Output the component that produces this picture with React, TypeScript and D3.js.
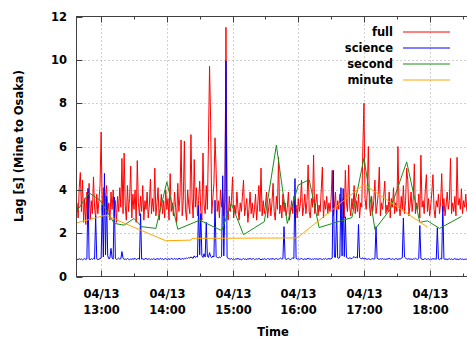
import React from 'react';
import * as d3 from 'd3';

// lag samples, one per minute starting at FULL_START
const FULL_START = "12:38";
const FULL = [
  3.4, 2.7, 4.1, 4.8, 3.0, 4.45, 2.5, 3.6, 2.4, 3.9,
  3.1, 4.3, 2.6, 3.5, 2.9, 4.6, 3.2, 2.7, 3.8, 2.9,
  3.5, 4.2, 6.67, 3.0, 4.1, 2.8, 3.6, 4.2, 2.9, 3.4,
  2.6, 3.9, 3.1, 4.0, 2.8, 3.5, 2.5, 3.7, 3.0, 4.1,
  3.2, 5.45, 2.9, 5.7, 3.3, 2.6, 4.2, 3.0, 3.6, 5.1,
  2.7, 3.8, 3.1, 4.0, 2.5, 5.35, 3.4, 2.8, 3.7, 3.0,
  4.2, 2.6, 3.5, 3.1, 3.9, 2.7, 3.3, 4.5, 2.9, 3.6,
  3.0, 5.0, 2.8, 3.4, 4.1, 2.6, 3.2, 3.8, 2.9, 3.5,
  2.7, 4.0, 3.1, 3.6, 2.6, 4.75, 3.0, 3.4, 2.8, 3.9,
  3.2, 2.5, 4.3, 3.0, 3.7, 6.3, 2.8, 3.5, 6.25, 3.1,
  2.6, 4.0, 3.3, 2.9, 6.55, 3.6, 2.7, 5.4, 3.2, 4.1,
  2.8, 3.5, 4.4, 3.0, 2.6, 5.7, 3.3, 2.9, 4.2, 3.1,
  6.2, 9.7, 7.15, 2.9, 3.6, 4.3, 6.4, 4.9, 3.0, 3.5,
  2.7, 4.0, 3.2, 3.8, 2.8, 3.4, 11.5, 3.1, 2.6, 3.7,
  3.0, 3.5, 4.6, 2.7, 3.3, 2.9, 3.9, 3.1, 2.6, 3.4,
  3.0, 3.7, 4.45, 2.8, 3.2, 3.6, 2.5, 3.1, 3.9, 2.9,
  3.4, 2.7, 3.1, 3.8, 2.6, 3.3, 4.2, 3.0, 5.0, 2.8,
  3.5, 2.9, 3.3, 3.9, 2.7, 3.2, 3.6, 2.8, 3.4, 4.3,
  3.0, 2.6, 3.7, 3.1, 5.5, 2.9, 3.3, 2.7, 3.8, 3.0,
  3.4, 2.8, 3.2, 3.9, 2.6, 3.1, 3.5, 2.9, 3.7, 3.0,
  3.3, 2.7, 3.6, 3.0, 3.4, 4.45, 2.8, 3.2, 3.8, 2.9,
  3.5, 5.15, 3.0, 2.7, 3.6, 3.2, 5.6, 2.9, 3.4, 3.8,
  2.8, 3.3, 3.0, 4.0, 5.05, 2.7, 3.5, 3.1, 3.7, 2.9,
  3.4, 3.0, 3.6, 4.9, 2.8, 3.2, 3.9, 2.7, 3.5, 3.1,
  3.8, 2.9, 3.3, 3.6, 2.7, 4.9, 3.4, 3.0, 5.15, 3.2,
  2.8, 3.6, 3.1, 4.2, 2.9, 3.5, 3.0, 3.8, 2.7, 3.4,
  3.2, 5.98, 8.0, 3.6, 3.1, 3.9, 6.0, 3.3, 2.8, 3.7,
  3.0, 3.5, 4.45, 2.9, 3.3, 3.8, 5.05, 2.8, 3.4, 3.1,
  3.7, 4.4, 2.9, 3.3, 3.0, 3.9, 2.7, 3.6, 3.2, 4.1,
  2.9, 3.4, 3.0, 6.0, 3.3, 2.8, 3.7, 3.1, 4.2, 2.9,
  3.5, 5.0, 4.45, 2.8, 3.3, 3.9, 3.0, 3.6, 5.2, 2.9,
  3.4, 3.1, 3.8, 2.7, 5.6, 3.2, 3.5, 2.9, 4.0, 4.7,
  3.0, 3.6, 2.8, 3.3, 3.9, 4.7, 3.1, 2.7, 3.5, 3.2,
  3.8, 2.9, 3.4, 4.75, 3.0, 3.6, 2.8, 3.3, 3.9, 3.1,
  3.5, 5.45, 2.9, 3.4, 3.0, 3.7, 2.8, 5.5, 3.3, 3.6,
  3.1, 4.05, 2.9, 3.5, 3.2, 3.8, 3.0,
];

const SCIENCE = [
  0.80, 0.78, 0.82, 0.79, 0.81, 0.77, 0.80, 0.83, 0.79, 0.81,
  4.07, 0.80, 0.78, 0.82, 0.79, 0.84, 0.80, 2.8, 0.81, 0.78,
  0.80, 0.83, 0.85, 3.3, 0.9, 4.76, 1.0, 3.7, 0.95, 0.82,
  0.84, 1.3, 0.86, 0.80, 3.67, 0.83, 0.79, 0.81, 0.85, 0.80,
  0.82, 1.15, 0.84, 0.79, 0.81, 0.78, 0.83, 0.80, 0.77, 0.81,
  0.79, 0.82, 0.80, 0.84, 0.78, 0.81, 0.83, 0.79, 2.9, 0.80,
  0.82, 0.78, 0.81, 0.84, 0.79, 0.80, 0.83, 0.77, 0.81, 0.79,
  0.82, 0.80, 0.78, 0.83, 0.81, 0.79, 0.84, 0.80, 0.82, 0.78,
  0.81, 0.83, 0.79, 0.80, 0.82, 0.78, 0.84, 0.81, 0.79, 0.83,
  0.80, 0.82, 0.78, 0.85, 0.81, 0.79, 0.83, 0.80, 0.84, 0.82,
  0.86, 0.83, 0.88, 0.85, 0.90, 0.87, 0.84, 0.95, 0.88, 0.92,
  0.90, 3.3, 1.0, 2.9, 0.95, 0.88, 1.05, 0.90, 2.5, 0.93,
  0.88, 1.1, 0.92, 0.87, 0.95, 0.90, 3.52, 0.92, 0.88, 0.86,
  0.90, 0.87, 0.93, 4.65, 0.95, 3.06, 9.95, 0.88, 0.84, 0.82,
  0.80, 0.83, 0.79, 0.81, 0.78, 0.82, 0.80, 0.84, 0.79, 0.81,
  0.77, 0.80, 0.83, 0.79, 0.81, 0.78, 0.82, 0.80, 0.84, 0.79,
  0.81, 0.83, 0.78, 0.80, 0.82, 0.79, 0.84, 0.80, 0.77, 0.81,
  0.79, 0.82, 0.80, 0.78, 0.83, 0.81, 0.79, 0.82, 0.80, 0.84,
  0.78, 0.81, 0.83, 0.79, 0.80, 0.82, 0.85, 0.80, 0.83, 2.3,
  0.82, 0.79, 0.81, 0.84, 0.80, 0.78, 0.82, 0.86, 0.83, 4.52,
  0.84, 0.80, 0.82, 0.79, 0.81, 0.83, 0.80, 0.78, 0.82, 0.79,
  0.81, 0.84, 0.80, 0.82, 0.78, 0.81, 0.79, 0.83, 0.80, 0.82,
  0.79, 0.81, 0.83, 0.80, 0.78, 0.82, 0.80, 0.84, 0.79, 0.81,
  0.83, 0.80, 0.82, 0.85, 4.9, 0.90, 0.88, 3.06, 0.86, 0.84,
  0.90, 4.1, 0.95, 4.06, 0.92, 2.76, 0.88, 0.85, 0.83, 0.86,
  0.84, 0.82, 0.88, 0.92, 0.86, 0.90, 0.85, 2.4, 0.87, 0.84,
  0.82, 0.86, 0.80, 0.83, 0.81, 0.79, 0.82, 0.80, 0.78, 0.81,
  0.83, 0.80, 0.82, 2.3, 0.84, 0.81, 0.79, 0.82, 0.80, 0.83,
  0.79, 0.81, 0.78, 0.82, 0.80, 0.84, 0.81, 0.79, 0.82, 0.80,
  0.78, 0.83, 0.81, 0.79, 0.82, 0.80, 0.84, 0.86, 2.7, 0.90,
  0.85, 0.82, 0.80, 0.83, 0.79, 0.81, 0.78, 0.82, 0.80, 0.84,
  0.81, 0.79, 0.83, 2.35, 0.82, 0.80, 0.78, 0.81, 0.83, 0.79,
  0.80, 0.82, 0.78, 0.81, 0.79, 0.83, 0.80, 0.82, 0.79, 2.25,
  0.81, 0.78, 0.83, 0.80, 3.25, 0.82, 0.79, 0.81, 0.78, 0.80,
  0.82, 0.79, 0.81, 0.78, 0.80, 0.83, 0.79, 0.81, 0.78, 0.80,
  0.82, 0.79, 0.81, 0.78, 0.80, 0.79, 0.81,
];

const SECOND_TIMES = [
  "12:37", "12:49", "12:59", "13:12", "13:21", "13:30", "13:37", "13:50",
  "14:00", "14:10", "14:30", "14:50", "14:59", "15:10", "15:29", "15:40",
  "15:50", "16:00", "16:10", "16:19", "16:49", "17:00", "17:10", "17:24",
  "17:39", "17:51", "17:58", "18:09", "18:29",
];
const SECOND_VALUES = [
  2.95, 3.86, 3.52, 2.45, 2.37, 2.68, 2.3, 2.22,
  4.37, 2.18, 2.6, 2.12, 3.35, 1.93, 2.53, 6.06,
  2.45, 4.22, 4.47, 2.26, 2.72, 5.47, 2.17, 3.1,
  5.29, 2.5, 2.57, 2.22, 2.77,
];

const MINUTE_TIMES = ["12:37", "13:04", "13:59", "14:22", "14:23", "15:59", "17:00", "17:58"];
const MINUTE_VALUES = [2.47, 2.83, 1.65, 1.68, 1.76, 1.78, 4.25, 2.28];

const SERIES_NAMES = ["full", "science", "second", "minute"];
const SERIES_COLORS = ["#ff0000", "#0000ff", "#1a8c1a", "#ffa500"];
const Y_TICKS = [0, 2, 4, 6, 8, 10, 12];
const DAY = "04/13";

const W = 467;
const H = 338;
const M = { left: 76.5, top: 16.5, bottom: 276.5, right: 468 };

const parse = d3.timeParse("%m/%d %H:%M:%S");
const at = (hm: string) => parse(`${DAY} ${hm.length === 5 ? hm + ":00" : hm}`) as Date;

export default function App() {
  const x = d3.scaleTime()
    .domain([at("12:37:30"), at("18:35:00")])
    .range([M.left, M.right]);
  const y = d3.scaleLinear().domain([0, 12]).range([M.bottom, M.top]);

  const start = at(FULL_START);
  const fullPts = FULL.map((v, i) => [d3.timeMinute.offset(start, i), v] as [Date, number]);
  const sciPts = SCIENCE.map((v, i) => [d3.timeMinute.offset(start, i), v] as [Date, number]);
  const secPts = SECOND_TIMES.map((t, i) => [at(t), SECOND_VALUES[i]] as [Date, number]);
  const minPts = MINUTE_TIMES.map((t, i) => [at(t), MINUTE_VALUES[i]] as [Date, number]);

  const line = d3.line<[Date, number]>().x(d => x(d[0])).y(d => y(d[1]));
  const series = [fullPts, sciPts, secPts, minPts];

  const hours = x.ticks(d3.timeHour.every(1)!);
  const halves = x.ticks(d3.timeMinute.every(30)!).filter(d => d.getMinutes() !== 0);
  const fmtDay = d3.timeFormat("%m/%d");
  const fmtTime = d3.timeFormat("%H:%M");

  const grid = { stroke: "#a0a0a0", strokeWidth: 1, strokeDasharray: "1,3" };
  const axisColor = "#404040";

  return (
    <svg width={W} height={H} style={{ position: "absolute", left: 0, top: 0, background: "#fff" }}
      fontFamily="DejaVu Sans" fontWeight="bold" fontSize={11.5}>
      <defs>
        <clipPath id="plot">
          <rect x={M.left} y={M.top} width={M.right - M.left} height={M.bottom - M.top} />
        </clipPath>
      </defs>

      {/* grid */}
      {Y_TICKS.filter(v => v > 0 && v < 12).map(v => (
        <line key={"gy" + v} x1={M.left} x2={M.right} y1={Math.round(y(v)) + 0.5} y2={Math.round(y(v)) + 0.5} {...grid} />
      ))}
      {hours.map(d => (
        <line key={"gx" + d} x1={Math.round(x(d)) + 0.5} x2={Math.round(x(d)) + 0.5} y1={M.top} y2={M.bottom} {...grid} />
      ))}

      {/* data */}
      <g clipPath="url(#plot)" fill="none" strokeWidth={1}>
        {series.map((pts, i) => (
          <path key={SERIES_NAMES[i]} d={line(pts) || ""} stroke={SERIES_COLORS[i]} />
        ))}
      </g>

      {/* border */}
      <rect x={M.left} y={M.top} width={M.right - M.left} height={M.bottom - M.top} fill="none" stroke={axisColor} strokeWidth={1} />

      {/* y ticks */}
      {Y_TICKS.map(v => (
        <g key={"yt" + v}>
          <line x1={M.left} x2={M.left + 6} y1={Math.round(y(v)) + 0.5} y2={Math.round(y(v)) + 0.5} stroke={axisColor} />
          <text x={67} y={y(v)} dy="0.36em" textAnchor="end" fill="#000">{v}</text>
        </g>
      ))}

      {/* x ticks */}
      {hours.map(d => {
        const px = Math.round(x(d)) + 0.5;
        return (
          <g key={"xt" + d}>
            <line x1={px} x2={px} y1={M.bottom} y2={M.bottom - 6} stroke={axisColor} />
            <line x1={px} x2={px} y1={M.top} y2={M.top + 6} stroke={axisColor} />
            <text x={px} y={M.bottom + 21} textAnchor="middle" fill="#000">{fmtDay(d)}</text>
            <text x={px} y={M.bottom + 37.5} textAnchor="middle" fill="#000">{fmtTime(d)}</text>
          </g>
        );
      })}
      {halves.map(d => {
        const px = Math.round(x(d)) + 0.5;
        return (
          <g key={"xm" + d}>
            <line x1={px} x2={px} y1={M.bottom} y2={M.bottom - 3} stroke={axisColor} />
            <line x1={px} x2={px} y1={M.top} y2={M.top + 3} stroke={axisColor} />
          </g>
        );
      })}

      {/* axis titles */}
      <text x={273} y={335.5} textAnchor="middle" fill="#000">Time</text>
      <text transform="translate(22.5,146) rotate(-90)" textAnchor="middle" fill="#000">Lag [s] (Mine to Osaka)</text>

      {/* legend */}
      {SERIES_NAMES.map((name, i) => {
        const ly = 32 + i * 16;
        return (
          <g key={"lg" + name}>
            <text x={393} y={ly} dy="0.36em" textAnchor="end" fill="#000">{name}</text>
            <line x1={403} x2={450} y1={ly} y2={ly} stroke={SERIES_COLORS[i]} strokeWidth={1} />
          </g>
        );
      })}
    </svg>
  );
}
